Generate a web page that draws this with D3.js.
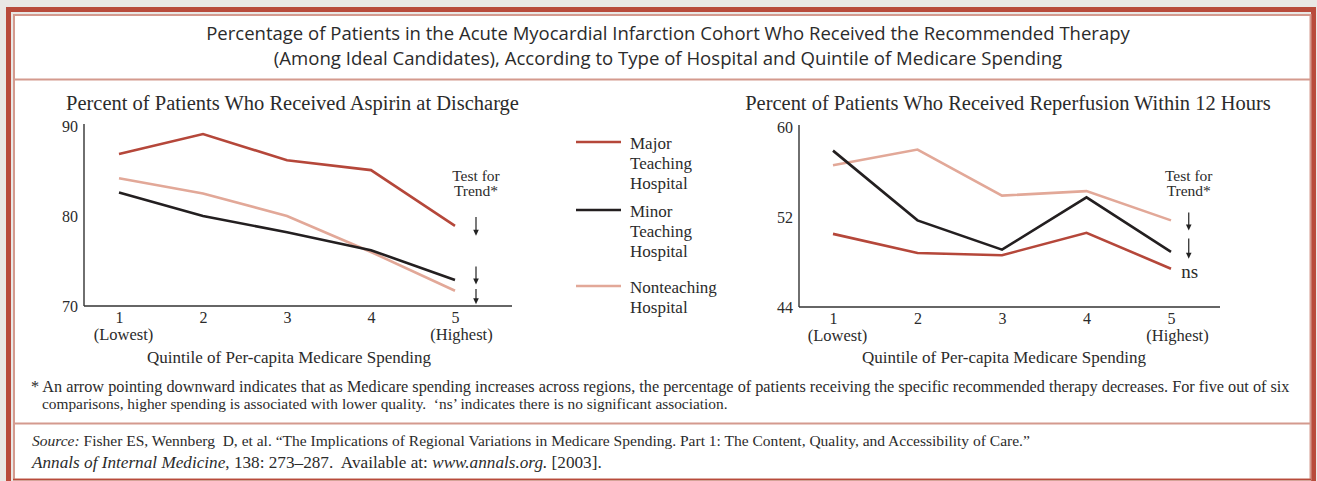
<!DOCTYPE html>
<html>
<head>
<meta charset="utf-8">
<script src="https://cdn.jsdelivr.net/npm/d3@7/dist/d3.min.js"></script>
<style>
  html, body { margin: 0; padding: 0; background: #e9e8e5; }
  svg { display: block; }
  text { fill: #2b2b2b; white-space: pre; }
</style>
</head>
<body>
<svg id="chart" width="1317" height="481"></svg>
<script>
// ---------- data ----------
const quintiles = [1, 2, 3, 4, 5];
const quintileSubLabels = { 1: "(Lowest)", 5: "(Highest)" };

const seriesNames = ["Major Teaching Hospital", "Minor Teaching Hospital", "Nonteaching Hospital"];
const legendLines = [["Major", "Teaching", "Hospital"], ["Minor", "Teaching", "Hospital"], ["Nonteaching", "Hospital"]];
const seriesColors = ["#b5473a", "#231f20", "#e2a898"];

const aspirinMajor = [86.9, 89.1, 86.2, 85.1, 78.9];
const aspirinMinor = [82.6, 80.0, 78.2, 76.2, 72.9];
const aspirinNon   = [84.2, 82.5, 80.0, 76.0, 71.7];

const reperfMajor = [50.5, 48.8, 48.6, 50.6, 47.4];
const reperfMinor = [57.9, 51.7, 49.1, 53.75, 48.9];
const reperfNon   = [56.6, 58.0, 53.9, 54.3, 51.7];

const aspirinTicks = [70, 80, 90];
const reperfTicks = [44, 52, 60];

// trend arrows (start value, end value) drawn at the right of quintile 5
const aspirinArrows = [[79.9, 77.8], [74.4, 72.4], [71.9, 70.2]];
const reperfArrows = [[52.4, 50.8], [50.1, 48.3]];

const mainTitle = [
  "Percentage of Patients in the Acute Myocardial Infarction Cohort Who Received the Recommended Therapy",
  "(Among Ideal Candidates), According to Type of Hospital and Quintile of Medicare Spending"
];
const aspirinTitle = "Percent of Patients Who Received Aspirin at Discharge";
const reperfTitle = "Percent of Patients Who Received Reperfusion Within 12 Hours";
const xAxisTitle = "Quintile of Per-capita Medicare Spending";
const footnote = [
  "* An arrow pointing downward indicates that as Medicare spending increases across regions, the percentage of patients receiving the specific recommended therapy decreases. For five out of six",
  "comparisons, higher spending is associated with lower quality.  \u2018ns\u2019 indicates there is no significant association."
];

// ---------- drawing ----------
const svg = d3.select("#chart");
const serif = "'Liberation Serif', 'DejaVu Serif', serif";
const sans = "'Open Sans', 'Noto Sans', sans-serif";

function fit(sel, target) {
  const node = sel.node();
  const fs = parseFloat(sel.attr("font-size"));
  const w = node.getComputedTextLength();
  if (w > 0) sel.attr("font-size", (fs * target / w).toFixed(2));
  return sel;
}

// frame
svg.append("rect").attr("x", 8.5).attr("y", 9.5).attr("width", 1305).attr("height", 520)
  .attr("fill", "none").attr("stroke", "#b84b3b").attr("stroke-width", 5);
svg.append("rect").attr("x", 14).attr("y", 15).attr("width", 1296.5).attr("height", 464.5)
  .attr("fill", "#ffffff").attr("stroke", "#d49a8e").attr("stroke-width", 2);
svg.append("line").attr("x1", 13).attr("x2", 1311).attr("y1", 479.5).attr("y2", 479.5)
  .attr("stroke", "#b84b3b").attr("stroke-width", 1.5);
[79.5, 423.5].forEach(y => {
  svg.append("line").attr("x1", 14).attr("x2", 1311).attr("y1", y).attr("y2", y)
    .attr("stroke", "#d49a8e").attr("stroke-width", 2);
});

// main title
const mtWidths = [924, 789];
mainTitle.forEach((t, i) => {
  const s = svg.append("text").attr("x", 668).attr("y", 34 + i * 24).attr("dy", "0.35em")
    .attr("text-anchor", "middle").attr("font-family", sans).attr("font-size", 18)
    .attr("fill", "#333").text(t);
  fit(s, mtWidths[i]);
});

function drawPanel(opts) {
  const g = svg.append("g");
  const x = d3.scaleLinear().domain([1, 5]).range([opts.x1, opts.x5]);
  const y = d3.scaleLinear().domain(opts.domain).range([opts.yBottom, opts.yTop]);

  // title
  const t = g.append("text").attr("x", (opts.titleX0 + opts.titleX1) / 2).attr("y", 103).attr("dy", "0.35em")
    .attr("text-anchor", "middle").attr("font-family", serif).attr("font-size", 19).text(opts.title);
  fit(t, opts.titleX1 - opts.titleX0);

  // y axis
  const yAxis = d3.axisLeft(y).tickValues(opts.ticks).tickSize(0).tickPadding(6);
  const ya = g.append("g").attr("transform", `translate(${opts.axisX},0)`).call(yAxis);
  ya.select(".domain").attr("d", `M0,${opts.yTop - 2}V${opts.yBottom}`).attr("stroke", "#333").attr("stroke-width", 1.4);
  ya.selectAll(".tick text").attr("font-family", serif).attr("font-size", 16).attr("fill", "#333");

  // x axis
  const xAxis = d3.axisBottom(x).tickValues(quintiles).tickSize(0).tickPadding(6).tickFormat(d3.format("d"));
  const xa = g.append("g").attr("transform", `translate(0,${opts.yBottom})`).call(xAxis);
  xa.select(".domain").attr("d", `M${opts.axisX},0H${opts.axisEnd}`).attr("stroke", "#333").attr("stroke-width", 1.4);
  xa.selectAll(".tick text").attr("font-family", serif).attr("font-size", 16).attr("fill", "#333");
  xa.selectAll(".tick").filter(d => quintileSubLabels[d]).append("text")
    .attr("y", 28).attr("dy", "0.35em").attr("x", d => d === 1 ? 4 : 6)
    .attr("text-anchor", "middle").attr("font-family", serif).attr("font-size", 16.5).attr("fill", "#333")
    .text(d => quintileSubLabels[d]);

  g.append("text").attr("x", opts.axisTitleX).attr("y", 357).attr("dy", "0.35em")
    .attr("text-anchor", "middle").attr("font-family", serif).attr("font-size", 17).text(xAxisTitle);

  // lines
  const line = d3.line().x((d, i) => x(quintiles[i])).y(d => y(d));
  [2, 1, 0].forEach(k => {
    g.append("path").datum(opts.series[k]).attr("d", line)
      .attr("fill", "none").attr("stroke", seriesColors[k]).attr("stroke-width", 2.6)
      .attr("stroke-linejoin", "miter");
  });

  // test for trend
  const tx = x(opts.arrowQ);
  ["Test for", "Trend*"].forEach((s, i) => {
    g.append("text").attr("x", tx).attr("y", 175.5 + i * 15.5).attr("dy", "0.35em")
      .attr("text-anchor", "middle").attr("font-family", serif).attr("font-size", 15.5).text(s);
  });
  opts.arrows.forEach(([a, b]) => {
    const y0 = y(a), y1 = y(b);
    g.append("line").attr("x1", tx).attr("x2", tx).attr("y1", y0).attr("y2", y1 - 4)
      .attr("stroke", "#222").attr("stroke-width", 1.2);
    g.append("path").attr("d", `M${tx - 2.8},${y1 - 6}L${tx + 2.8},${y1 - 6}L${tx},${y1}Z`).attr("fill", "#222");
  });
  if (opts.ns) {
    g.append("text").attr("x", tx + 1).attr("y", y(opts.ns)).attr("dy", "0.3em")
      .attr("text-anchor", "middle").attr("font-family", serif).attr("font-size", 19).text("ns");
  }
}

drawPanel({
  title: aspirinTitle, titleX0: 66, titleX1: 519,
  x1: 119, x5: 455, axisX: 84, axisEnd: 512,
  domain: [70, 90], yBottom: 306, yTop: 126, ticks: aspirinTicks,
  series: [aspirinMajor, aspirinMinor, aspirinNon],
  arrowQ: 5.25, arrows: aspirinArrows, axisTitleX: 289
});

drawPanel({
  title: reperfTitle, titleX0: 745, titleX1: 1271,
  x1: 833, x5: 1171, axisX: 799, axisEnd: 1220,
  domain: [44, 60], yBottom: 307, yTop: 127, ticks: reperfTicks,
  series: [reperfMajor, reperfMinor, reperfNon],
  arrowQ: 5.21, arrows: reperfArrows, ns: 47.05, axisTitleX: 1004
});

// legend
const legendY = [142, 210, 286];
seriesNames.forEach((name, k) => {
  const lg = svg.append("g");
  lg.append("line").attr("x1", 576).attr("x2", 621).attr("y1", legendY[k]).attr("y2", legendY[k])
    .attr("stroke", seriesColors[k]).attr("stroke-width", 2.6);
  legendLines[k].forEach((s, i) => {
    lg.append("text").attr("x", 630).attr("y", legendY[k] + 1 + i * 20).attr("dy", "0.35em")
      .attr("font-family", serif).attr("font-size", 17).text(s);
  });
});

// footnote
const fnX = [31, 42], fnW = [1259, 686];
footnote.forEach((s, i) => {
  const t = svg.append("text").attr("x", fnX[i]).attr("y", 386 + i * 18).attr("dy", "0.35em")
    .attr("font-family", serif).attr("font-size", 13).text(s);
  fit(t, fnW[i]);
});

// source
const src1 = svg.append("text").attr("x", 32).attr("y", 441).attr("dy", "0.35em")
  .attr("font-family", serif).attr("font-size", 15);
src1.append("tspan").attr("font-style", "italic").text("Source:");
src1.append("tspan").text(" Fisher ES, Wennberg  D, et al. \u201CThe Implications of Regional Variations in Medicare Spending. Part 1: The Content, Quality, and Accessibility of Care.\u201D");
fit(src1, 999);
const src2 = svg.append("text").attr("x", 32).attr("y", 462).attr("dy", "0.35em")
  .attr("font-family", serif).attr("font-size", 15);
src2.append("tspan").attr("font-style", "italic").text("Annals of Internal Medicine");
src2.append("tspan").text(", 138: 273\u2013287.  Available at: ");
src2.append("tspan").attr("font-style", "italic").text("www.annals.org.");
src2.append("tspan").text(" [2003].");
fit(src2, 570);
</script>
</body>
</html>
